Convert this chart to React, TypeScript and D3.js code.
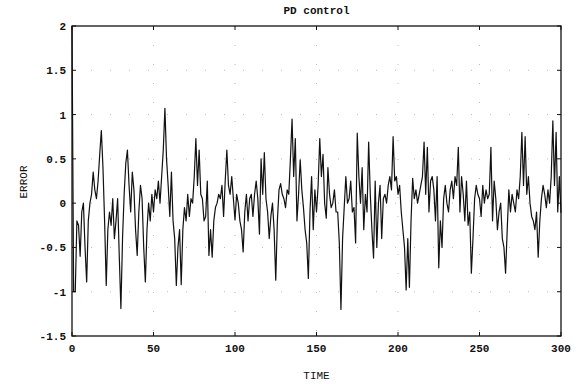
import React from "react";
import * as d3 from "d3";

const title = "PD control";
const xLabel = "TIME";
const yLabel = "ERROR";
const xTicks = [0, 50, 100, 150, 200, 250, 300];
const xTickLabels = ["0", "50", "100", "150", "200", "250", "300"];
const yTicks = [-1.5, -1, -0.5, 0, 0.5, 1, 1.5, 2];
const yTickLabels = ["-1.5", "-1", "-0.5", "0", "0.5", "1", "1.5", "2"];

const error0 = [2.0, -1.0, -1.0, -0.2, -0.25, -0.6, -0.1, 0.0, -0.5, -0.89,
  -0.2, 0.0, 0.1, 0.35, 0.15, 0.05, 0.25, 0.55, 0.82, 0.4,
  -0.2, -0.93, -0.3, -0.1, -0.25, 0.05, -0.4, -0.2, 0.05, -0.6,
  -1.19, -0.4, 0.1, 0.45, 0.6, 0.2, -0.1, 0.35, 0.15, -0.3,
  -0.59, -0.1, 0.2, 0.05, -0.5, -0.89, -0.3, 0.0, -0.2, 0.1];
const error1 = [-0.1, 0.15, 0.05, 0.25, 0.0, 0.3, 0.6, 1.07, 0.5, 0.2,
  -0.15, 0.35, -0.2, -0.4, -0.93, -0.5, -0.3, -0.92, -0.3, -0.05,
  -0.2, 0.1, -0.15, 0.05, 0.0, 0.3, 0.73, 0.2, 0.6, 0.1,
  0.05, -0.2, -0.15, 0.25, -0.59, -0.3, -0.61, -0.2, -0.05, 0.0,
  0.1, 0.05, 0.2, -0.15, 0.25, 0.6, 0.2, 0.1, 0.3, 0.05];
const error2 = [-0.19, 0.1, 0.0, -0.2, -0.3, -0.55, -0.1, 0.1, -0.2, 0.05,
  0.1, -0.15, 0.1, 0.25, 0.05, -0.35, 0.5, 0.1, 0.57, 0.05,
  -0.1, -0.4, -0.15, 0.0, -0.3, -0.87, -0.2, 0.15, 0.22, 0.1,
  0.05, -0.05, 0.15, 0.1, 0.5, 0.95, 0.3, 0.73, -0.2, 0.1,
  0.49, 0.15, -0.05, -0.3, -0.45, -0.85, -0.1, 0.3, -0.3, 0.15];
const error3 = [-0.1, 0.2, 0.73, 0.3, 0.55, 0.0, -0.17, 0.4, 0.1, -0.05,
  0.0, 0.15, -0.1, -0.1, -0.45, -1.2, -0.4, -0.05, 0.3, 0.0,
  0.05, 0.25, -0.1, -0.05, -0.45, 0.79, 0.3, 0.0, 0.4, -0.3,
  0.1, -0.1, 0.69, 0.1, -0.3, -0.62, 0.25, -0.5, 0.0, 0.2,
  -0.4, 0.05, 0.1, 0.0, 0.2, 0.3, 0.15, 0.75, 0.25, 0.3];
const error4 = [0.1, 0.2, -0.1, -0.3, -0.5, -0.98, -0.4, -0.95, -0.2, 0.28,
  0.05, 0.15, 0.0, 0.1, 0.2, 0.3, 0.69, 0.1, 0.63, -0.1,
  0.25, 0.3, 0.15, -0.2, 0.3, -0.73, -0.2, -0.5, 0.05, 0.2,
  0.0, -0.1, 0.15, 0.25, 0.05, 0.3, 0.2, 0.63, -0.1, 0.3,
  0.1, -0.2, 0.25, -0.25, -0.1, -0.79, -0.4, 0.05, 0.2, 0.1];
const error5 = [0.05, -0.15, 0.2, 0.0, 0.15, 0.05, 0.1, 0.63, -0.2, 0.25,
  0.05, -0.3, -0.1, 0.0, -0.4, -0.5, -0.79, -0.3, 0.15, -0.1,
  0.1, 0.0, -0.1, 0.15, 0.05, 0.3, 0.8, 0.2, 0.75, 0.1,
  0.3, 0.0, -0.15, -0.2, -0.3, -0.1, -0.61, -0.2, 0.05, 0.2,
  0.1, -0.05, 0.15, 0.0, 0.3, 0.93, 0.2, 0.8, -0.1, 0.3,
  -0.11];

const errorValues = [...error0, ...error1, ...error2, ...error3, ...error4, ...error5];

const W = 585, H = 384;
const L = 72, R = 561, T = 26, B = 336;
const mono = "'Liberation Mono', 'DejaVu Sans Mono', monospace";

export default function App() {
  const x = d3.scaleLinear().domain([0, 300]).range([L, R]);
  const y = d3.scaleLinear().domain([-1.5, 2]).range([B, T]);
  const line = d3.line<number>().x((_, i) => x(i)).y((d) => y(d));
  const tk = 4;
  return (
    <svg width={W} height={H} style={{ position: "absolute", left: 0, top: 0, background: "#fff" }}>
      <rect x={0} y={0} width={W} height={H} fill="#fff" />
      {xTicks.slice(1, -1).map((t) => (
        <line key={"gx" + t} x1={x(t)} x2={x(t)} y1={T} y2={B} stroke="#aaa" strokeWidth={0.8} strokeDasharray="1,18" />
      ))}
      {yTicks.slice(1, -1).map((t) => (
        <line key={"gy" + t} x1={L} x2={R} y1={y(t)} y2={y(t)} stroke="#aaa" strokeWidth={0.8} strokeDasharray="1,18" />
      ))}
      <path d={line(errorValues) || ""} fill="none" stroke="#111" strokeWidth={1.2} strokeLinejoin="round" />
      <rect x={L} y={T} width={R - L} height={B - T} fill="none" stroke="#111" strokeWidth={1.3} />
      {xTicks.map((t, i) => (
        <g key={"xt" + t}>
          <line x1={x(t)} x2={x(t)} y1={B} y2={B - tk} stroke="#111" />
          <line x1={x(t)} x2={x(t)} y1={T} y2={T + tk} stroke="#111" />
          <text x={x(t)} y={B + 16} textAnchor="middle" fontFamily={mono} fontSize={11} fontWeight="bold" fill="#111">
            {xTickLabels[i]}
          </text>
        </g>
      ))}
      {yTicks.map((t, i) => (
        <g key={"yt" + t}>
          <line x1={L} x2={L + tk} y1={y(t)} y2={y(t)} stroke="#111" />
          <line x1={R} x2={R - tk} y1={y(t)} y2={y(t)} stroke="#111" />
          <text x={L - 6} y={y(t) + 4} textAnchor="end" fontFamily={mono} fontSize={11} fontWeight="bold" fill="#111">
            {yTickLabels[i]}
          </text>
        </g>
      ))}
      <text x={(L + R) / 2} y={14} textAnchor="middle" fontFamily={mono} fontSize={11} fontWeight="bold" fill="#111">
        {title}
      </text>
      <text x={(L + R) / 2} y={379} textAnchor="middle" fontFamily={mono} fontSize={11} fill="#111">
        {xLabel}
      </text>
      <text transform={`translate(27,${182}) rotate(-90)`} textAnchor="middle" fontFamily={mono} fontSize={11} fill="#111">
        {yLabel}
      </text>
    </svg>
  );
}
